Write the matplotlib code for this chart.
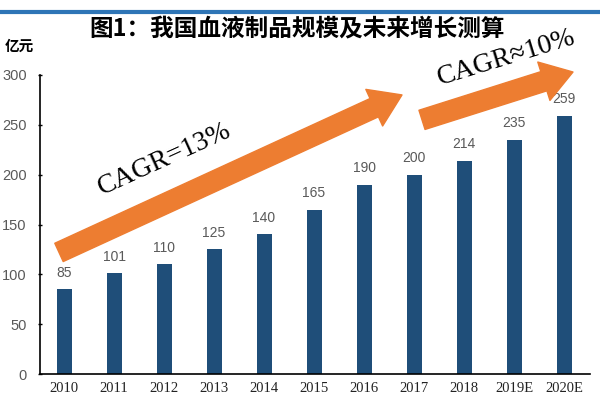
import matplotlib
matplotlib.use("Agg")
import matplotlib.pyplot as plt
from matplotlib.patches import FancyArrowPatch, ArrowStyle
from matplotlib.lines import Line2D

years = ["2010", "2011", "2012", "2013", "2014", "2015", "2016", "2017", "2018", "2019E", "2020E"]
values = [85, 101, 110, 125, 140, 165, 190, 200, 214, 235, 259]
yticks = [0, 50, 100, 150, 200, 250, 300]
title = "图1：我国血液制品规模及未来增长测算"
unit = "亿元"
cagr1 = "CAGR=13%"
cagr2 = "CAGR≈10%"

bar_color = "#1F4E79"
orange = "#ED7D31"
grey = "#595959"

fig = plt.figure(figsize=(6, 4), dpi=100)
ax = fig.add_axes([40/600, 26/400, 550/600, 299/400])

x = list(range(len(years)))
ax.bar(x, values, width=0.3, color=bar_color, zorder=2)
for xi, v in zip(x, values):
    ax.annotate(str(v), (xi, v), xytext=(0, 7), textcoords="offset points",
                ha="center", va="bottom", fontsize=10, color=grey,
                family="Liberation Sans")

ax.set_xlim(-0.48, 10.52)
ax.set_ylim(0, 300)
ax.set_xticks(x)
ax.set_xticklabels(years, family="Liberation Serif", fontsize=10.5, color="#222222")
ax.set_yticks(yticks)
ax.set_yticklabels([str(t) for t in yticks], family="Liberation Sans", fontsize=10.5, color=grey)
ax.tick_params(axis="x", length=0, pad=6)
ax.tick_params(axis="y", length=3, direction="inout", width=1, pad=8)
for s in ["top", "right"]:
    ax.spines[s].set_visible(False)
ax.spines["left"].set_linewidth(1.2)
ax.spines["bottom"].set_linewidth(1.2)

style = ArrowStyle.Simple(head_length=2.2, head_width=2.9, tail_width=1.45)
a1 = FancyArrowPatch((-0.1, 122), (6.76, 280), arrowstyle=style, mutation_scale=10,
                     color=orange, shrinkA=0, shrinkB=0, clip_on=False, zorder=3)
a2 = FancyArrowPatch((7.16, 255), (10.18, 303), arrowstyle=style, mutation_scale=10,
                     color=orange, shrinkA=0, shrinkB=0, clip_on=False, zorder=3)
ax.add_patch(a1)
ax.add_patch(a2)

ax.text(2.02, 215, cagr1, rotation=24.5, rotation_mode="anchor", ha="center", va="center",
        family="Liberation Serif", fontsize=20, color="black", zorder=4)
ax.text(8.84, 317, cagr2, rotation=17, rotation_mode="anchor", ha="center", va="center",
        family=["Liberation Serif", "DejaVu Serif"], fontsize=20, color="black", zorder=4, clip_on=False)

fig.text(297/600, 1 - 28/400, title, ha="center", va="center", fontsize=17,
         fontweight="bold", family=["Noto Sans CJK SC", "DejaVu Sans"])
fig.text(5/600, 1 - 46/400, unit, ha="left", va="center", fontsize=10.5,
         fontweight="bold", family=["Noto Sans CJK SC", "DejaVu Sans"])
fig.add_artist(Line2D([0, 1], [1 - 12/400, 1 - 12/400], color="#2E75B6", lw=3))

fig.savefig("out.png", dpi=100)
